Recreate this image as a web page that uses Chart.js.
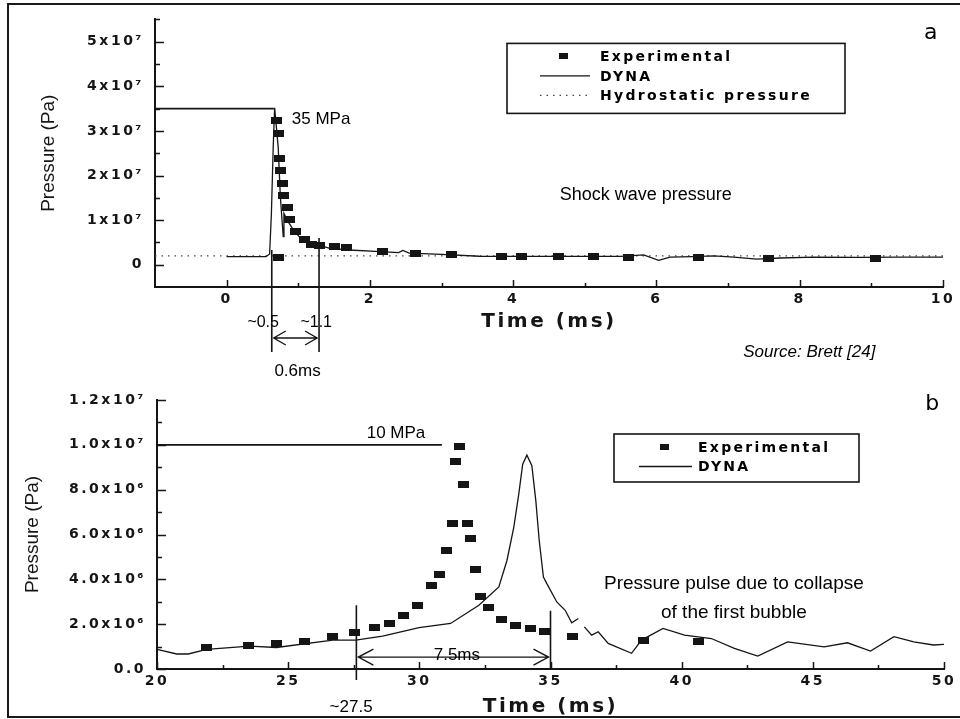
<!DOCTYPE html>
<html>
<head>
<meta charset="utf-8">
<title>Pressure histories</title>
<script src="https://cdn.jsdelivr.net/npm/chart.js@4.4.1/dist/chart.umd.min.js"></script>
<style>
  html, body { margin: 0; padding: 0; background: #fff; overflow: hidden; }
  #frame { position: absolute; left: 7px; top: 3px; width: 1000px; height: 711px; border: 2px solid #1a1a1a; border-right: none; }
  canvas { position: absolute; left: 0; }
  #shock { top: 0; }
  #bubble { top: 380px; }
</style>
</head>
<body>
<div id="frame"></div>
<canvas id="shock" width="960" height="380"></canvas>
<canvas id="bubble" width="960" height="339"></canvas>
<script>
// ---- (a) shock wave ----
const shockExpTime  = [0.70, 0.72, 0.74, 0.745, 0.78, 0.80, 0.845, 0.88, 0.96, 1.08, 1.19, 1.29, 1.50, 1.68, 0.72, 2.17, 2.64, 3.14, 3.83, 4.12, 4.63, 5.12, 5.61, 6.59, 7.57, 9.06];
const shockExpPress = [3.24e7, 2.95e7, 2.39e7, 2.11e7, 1.83e7, 1.56e7, 1.28e7, 1.02e7, 7.4e6, 5.7e6, 4.6e6, 4.2e6, 4.0e6, 3.9e6, 1.7e6, 2.9e6, 2.6e6, 2.2e6, 1.85e6, 1.85e6, 1.85e6, 1.85e6, 1.7e6, 1.7e6, 1.5e6, 1.5e6];
const shockDynaTime  = [0, 0.55, 0.60, 0.625, 0.65, 0.67, 0.72, 0.75, 0.78, 0.79, 0.80, 0.86, 0.92, 1.01, 1.19, 1.43, 1.71, 2.08, 2.40, 2.46, 2.55, 3.0, 3.53, 4.5, 5.5, 5.82, 6.03, 6.19, 6.5, 6.8, 7.08, 7.4, 7.73, 8.2, 8.8, 9.4, 10];
const shockDynaPress = [1.8e6, 1.8e6, 2.4e6, 1.15e7, 2.63e7, 3.52e7, 2.63e7, 1.52e7, 8.5e6, 6.3e6, 1.15e7, 9.6e6, 8.1e6, 6.3e6, 4.8e6, 3.7e6, 3.3e6, 3.0e6, 2.7e6, 3.2e6, 2.6e6, 2.3e6, 1.9e6, 1.85e6, 1.85e6, 2.2e6, 0.96e6, 1.7e6, 1.8e6, 2.0e6, 1.7e6, 1.26e6, 1.5e6, 1.7e6, 1.65e6, 1.7e6, 1.7e6];
const hydroTime  = [-1, 10];
const hydroPress = [2.0e6, 2.0e6];

const shockTimeTicks   = [0, 2, 4, 6, 8, 10];
const shockTimeMinor   = [1, 3, 5, 7, 9];
const shockPressTicks  = [0, 1e7, 2e7, 3e7, 4e7, 5e7];
const shockPressLabels = ['0', '1x10⁷', '2x10⁷', '3x10⁷', '4x10⁷', '5x10⁷'];
const shockPressMinor  = [5e6, 1.5e7, 2.5e7, 3.5e7, 4.5e7, 5.5e7];

const shockPeak = 3.5e7;        // 35 MPa
const shockRise = [0.63, 1.29]; // ~0.5 .. ~1.1 ms window

// ---- (b) bubble pulse ----
const bubbleExpTime  = [21.89, 23.47, 24.55, 25.62, 26.70, 27.52, 28.30, 28.85, 29.38, 29.92, 30.47, 30.75, 31.03, 31.28, 31.38, 31.55, 31.67, 31.82, 31.95, 32.13, 32.33, 32.65, 33.15, 33.68, 34.23, 34.76, 35.85, 38.53, 40.66];
const bubbleExpPress = [0.95e6, 1.04e6, 1.14e6, 1.24e6, 1.44e6, 1.63e6, 1.84e6, 2.03e6, 2.37e6, 2.84e6, 3.72e6, 4.21e6, 5.29e6, 6.48e6, 9.24e6, 9.92e6, 8.21e6, 6.48e6, 5.81e6, 4.42e6, 3.25e6, 2.74e6, 2.21e6, 1.94e6, 1.81e6, 1.66e6, 1.47e6, 1.29e6, 1.24e6];
const bubbleDynaTime  = [20, 20.75, 21.19, 21.89, 23.53, 24.55, 26.70, 27.58, 28.60, 29.99, 31.19, 32.27, 33.03, 33.34, 33.60, 33.79, 33.94, 34.10, 34.29, 34.44, 34.57, 34.73, 34.86, 35.24, 35.56, 35.81, 36.06, 36.18, 36.29, 36.57, 36.82, 37.2, 38.09, 38.47, 39.29, 40.11, 41.13, 42.01, 42.90, 44.04, 45.43, 46.32, 47.2, 48.09, 48.85, 49.6, 50];
const bubbleDynaPress = [0.88e6, 0.67e6, 0.67e6, 0.88e6, 1.02e6, 0.96e6, 1.29e6, 1.29e6, 1.47e6, 1.85e6, 2.03e6, 2.84e6, 3.66e6, 4.84e6, 6.32e6, 7.8e6, 9.14e6, 9.54e6, 9.07e6, 7.51e6, 5.73e6, 4.1e6, 3.81e6, 2.99e6, 2.62e6, 2.06e6, 2.25e6, null, 1.88e6, 1.51e6, 1.66e6, 1.14e6, 0.70e6, 1.29e6, 1.81e6, 1.51e6, 1.36e6, 0.92e6, 0.58e6, 1.21e6, 0.99e6, 1.17e6, 0.80e6, 1.44e6, 1.21e6, 1.07e6, 1.10e6];

const bubbleTimeTicks   = [20, 25, 30, 35, 40, 45, 50];
const bubbleTimeMinor   = [22.5, 27.5, 32.5, 37.5, 42.5, 47.5];
const bubblePressTicks  = [0, 2e6, 4e6, 6e6, 8e6, 1e7, 1.2e7];
const bubblePressLabels = ['0.0', '2.0x10⁶', '4.0x10⁶', '6.0x10⁶', '8.0x10⁶', '1.0x10⁷', '1.2x10⁷'];
const bubblePressMinor  = [1e6, 3e6, 5e6, 7e6, 9e6, 1.1e7];

const bubblePeak = 1.0e7;        // 10 MPa
const bubbleSpan = [27.6, 35.0]; // ~27.5 .. 35 ms window

const INK = '#151515';
const SANS = '"Liberation Sans", Arial, sans-serif';
const WIDE = '"DejaVu Sans", Verdana, sans-serif';

const pts = (xs, ys) => xs.map((x, i) => ({ x, y: ys[i] }));

function block(w, h) {
  const c = document.createElement('canvas');
  c.width = w; c.height = h;
  const g = c.getContext('2d');
  g.fillStyle = INK;
  g.fillRect(0, 0, w, h);
  return c;
}
const plotMark = block(11, 7);
const keyMark = block(9, 6);

function spacing(ctx, px) {
  if ('letterSpacing' in ctx) ctx.letterSpacing = px;
}

function arrowHead(ctx, tip, y, dir, len, half) {
  ctx.moveTo(tip + dir * len, y - half);
  ctx.lineTo(tip, y);
  ctx.lineTo(tip + dir * len, y + half);
}

// tick marks, reference lines, notes and the boxed key
const panelMarks = {
  id: 'panelMarks',
  afterDatasetsDraw(chart) {
    // tick labels and the time title are drawn after this with wide spacing
    spacing(chart.ctx, '2.5px');
  },
  afterDraw(chart, args, o) {
    const { ctx, chartArea: area, scales: { x, y } } = chart;
    ctx.save();
    spacing(ctx, '0px');
    ctx.strokeStyle = INK;
    ctx.fillStyle = '#000';

    // inward ticks
    ctx.lineWidth = 1.5;
    ctx.beginPath();
    const xt = (vals, len) => vals.forEach(v => {
      const px = Math.round(x.getPixelForValue(v)) + 0.5;
      ctx.moveTo(px, area.bottom); ctx.lineTo(px, area.bottom - len);
    });
    const yt = (vals, len) => vals.forEach(v => {
      const py = Math.round(y.getPixelForValue(v)) + 0.5;
      ctx.moveTo(area.left, py); ctx.lineTo(area.left + len, py);
    });
    xt(o.xMajor, 7); xt(o.xMinor, 4);
    yt(o.yMajor, 9); yt(o.yMinor, 5);
    ctx.stroke();

    // level and window lines
    ctx.lineWidth = 1.6;
    ctx.beginPath();
    o.lines.forEach(l => {
      if (l.y !== undefined) {
        const py = y.getPixelForValue(l.y);
        ctx.moveTo(x.getPixelForValue(l.x0), py);
        ctx.lineTo(x.getPixelForValue(l.x1), py);
      } else {
        const px = x.getPixelForValue(l.x);
        ctx.moveTo(px, y.getPixelForValue(l.y0));
        ctx.lineTo(px, area.bottom + l.drop);
      }
    });
    ctx.stroke();

    // double-headed arrows
    ctx.lineWidth = 1.4;
    o.arrows.forEach(a => {
      const py = a.below !== undefined ? area.bottom + a.below : y.getPixelForValue(a.y);
      const x0 = x.getPixelForValue(a.x0) + a.inset;
      const x1 = x.getPixelForValue(a.x1) - a.inset;
      ctx.beginPath();
      ctx.moveTo(x0, py); ctx.lineTo(x1, py);
      arrowHead(ctx, x0, py, 1, a.head, a.half);
      arrowHead(ctx, x1, py, -1, a.head, a.half);
      ctx.stroke();
    });

    // notes
    ctx.textBaseline = 'middle';
    o.texts.forEach(t => {
      ctx.font = t.font;
      ctx.textAlign = t.align || 'center';
      const py = t.below !== undefined ? area.bottom + t.below : y.getPixelForValue(t.y);
      ctx.fillText(t.text, x.getPixelForValue(t.x), py);
    });

    // key
    const k = o.key;
    const bx = area.right - k.right - k.width;
    const by = area.top + k.top;
    ctx.lineWidth = 1.6;
    ctx.strokeRect(bx, by, k.width, k.height);
    ctx.font = 'bold 14px ' + WIDE;
    ctx.textAlign = 'left';
    spacing(ctx, '2.3px');
    chart.data.datasets.forEach((ds, i) => {
      const cy = by + k.first + i * k.step;
      if (ds.showLine) {
        ctx.save();
        ctx.strokeStyle = ds.borderColor;
        ctx.lineWidth = ds.borderWidth;
        ctx.setLineDash(ds.borderDash || []);
        ctx.beginPath();
        ctx.moveTo(bx + k.sample[0], cy);
        ctx.lineTo(bx + k.sample[1], cy);
        ctx.stroke();
        ctx.restore();
      } else {
        ctx.drawImage(keyMark, Math.round(bx + k.mark - keyMark.width / 2), Math.round(cy - keyMark.height / 2));
      }
      ctx.fillText(ds.label, bx + k.textX, cy + 1);
    });
    ctx.restore();
  }
};

function panel(id, cfg) {
  const scale = (range, ticks, labels, size, title, titleFont, pad, isX) => ({
    type: 'linear',
    min: range[0], max: range[1],
    afterBuildTicks: s => { s.ticks = ticks.map(v => ({ value: v })); },
    afterFit: s => { if (isX) s.height = size; else s.width = size; },
    // the time axis draws its title late so it picks up the wide spacing;
    // its axis line has to follow the grid layer
    grid: { display: false, drawTicks: false, z: isX ? 1 : -1 },
    border: { display: true, color: INK, width: 2, z: isX ? 1 : 0 },
    ticks: {
      z: 1, color: INK, padding: pad, autoSkip: false, maxRotation: 0,
      font: { family: WIDE, weight: 'bold', size: 14 },
      callback: (v, i) => labels[i]
    },
    title: { display: true, text: title, color: INK, padding: 0, font: titleFont }
  });

  return new Chart(document.getElementById(id), {
    type: 'scatter',
    data: { datasets: cfg.datasets },
    options: {
      responsive: false,
      animation: false,
      devicePixelRatio: 1,
      events: [],
      layout: { padding: cfg.padding },
      scales: {
        x: scale(cfg.xRange, cfg.xTicks, cfg.xTicks.map(String), cfg.xHeight, 'Time (ms)',
                 { family: WIDE, weight: 'bold', size: 20 }, 4, true),
        y: scale(cfg.yRange, cfg.yTicks, cfg.yLabels, cfg.yWidth, 'Pressure (Pa)',
                 { family: SANS, size: 19 }, 11, false)
      },
      plugins: {
        legend: { display: false },
        tooltip: { enabled: false },
        panelMarks: cfg.marks
      }
    },
    plugins: [panelMarks]
  });
}

const experimental = data => ({
  label: 'Experimental', data, showLine: false,
  pointStyle: plotMark, pointRadius: 5, borderWidth: 0
});
const dyna = data => ({
  label: 'DYNA', data, showLine: true, pointRadius: 0,
  borderColor: INK, borderWidth: 1.3, spanGaps: false
});

panel('shock', {
  padding: { left: 37, right: 17, top: 18, bottom: 46 },
  yWidth: 118, xHeight: 47,
  xRange: [-1, 10], yRange: [-5e6, 5.5e7],
  xTicks: shockTimeTicks, yTicks: shockPressTicks, yLabels: shockPressLabels,
  datasets: [
    experimental(pts(shockExpTime, shockExpPress)),
    dyna(pts(shockDynaTime, shockDynaPress)),
    { label: 'Hydrostatic pressure', data: pts(hydroTime, hydroPress), showLine: true,
      pointRadius: 0, borderColor: '#444', borderWidth: 1.2, borderDash: [1.5, 5] }
  ],
  marks: {
    xMajor: shockTimeTicks, xMinor: shockTimeMinor,
    yMajor: shockPressTicks, yMinor: shockPressMinor,
    lines: [
      { y: shockPeak, x0: -1, x1: 0.66 },
      { x: shockRise[0], y0: 3.3e6, drop: 65 },
      { x: shockRise[1], y0: 6.0e6, drop: 65 }
    ],
    arrows: [{ x0: shockRise[0], x1: shockRise[1], below: 51, inset: 2, head: 12, half: 7 }],
    texts: [
      { text: '35 MPa', x: 0.91, y: 3.27e7, align: 'left', font: '17px ' + SANS },
      { text: 'Shock wave pressure', x: 5.85, y: 1.56e7, font: '18px ' + SANS },
      { text: '~0.5', x: 0.51, below: 36, font: '16px ' + SANS },
      { text: '~1.1', x: 1.25, below: 36, font: '16px ' + SANS },
      { text: '0.6ms', x: 0.99, below: 84, font: '17px ' + SANS },
      { text: 'Source: Brett [24]', x: 7.21, below: 65, align: 'left', font: 'italic 17px ' + SANS },
      { text: 'a', x: 9.83, y: 5.18e7, font: '22px ' + WIDE }
    ],
    key: { right: 98, top: 24, width: 338, height: 70, first: 13, step: 19.5, sample: [33, 83], mark: 56, textX: 93 }
  }
});

panel('bubble', {
  padding: { left: 21, right: 16, top: 20, bottom: 0 },
  yWidth: 136, xHeight: 50,
  xRange: [20, 50], yRange: [0, 1.2e7],
  xTicks: bubbleTimeTicks, yTicks: bubblePressTicks, yLabels: bubblePressLabels,
  datasets: [
    experimental(pts(bubbleExpTime, bubbleExpPress)),
    dyna(pts(bubbleDynaTime, bubbleDynaPress))
  ],
  marks: {
    xMajor: bubbleTimeTicks, xMinor: bubbleTimeMinor,
    yMajor: bubblePressTicks, yMinor: bubblePressMinor,
    lines: [
      { y: bubblePeak, x0: 20, x1: 30.86 },
      { x: bubbleSpan[0], y0: 2.84e6, drop: 11 },
      { x: bubbleSpan[1], y0: 2.6e6, drop: 1 }
    ],
    arrows: [{ x0: bubbleSpan[0], x1: bubbleSpan[1], y: 0.53e6, inset: 2, head: 15, half: 8 }],
    texts: [
      { text: '10 MPa', x: 29.11, y: 1.053e7, font: '17px ' + SANS },
      { text: '7.5ms', x: 31.43, y: 0.62e6, font: '17px ' + SANS },
      { text: '~27.5', x: 27.4, below: 38, font: '17px ' + SANS },
      { text: 'Pressure pulse due to collapse', x: 41.99, y: 3.82e6, font: '19px ' + SANS },
      { text: 'of the first bubble', x: 41.99, y: 2.49e6, font: '19px ' + SANS },
      { text: 'b', x: 49.55, y: 1.18e7, font: '22px ' + WIDE }
    ],
    key: { right: 85, top: 34, width: 245, height: 48, first: 13, step: 19.5, sample: [25, 78], mark: 50, textX: 84 }
  }
});
</script>
</body>
</html>
